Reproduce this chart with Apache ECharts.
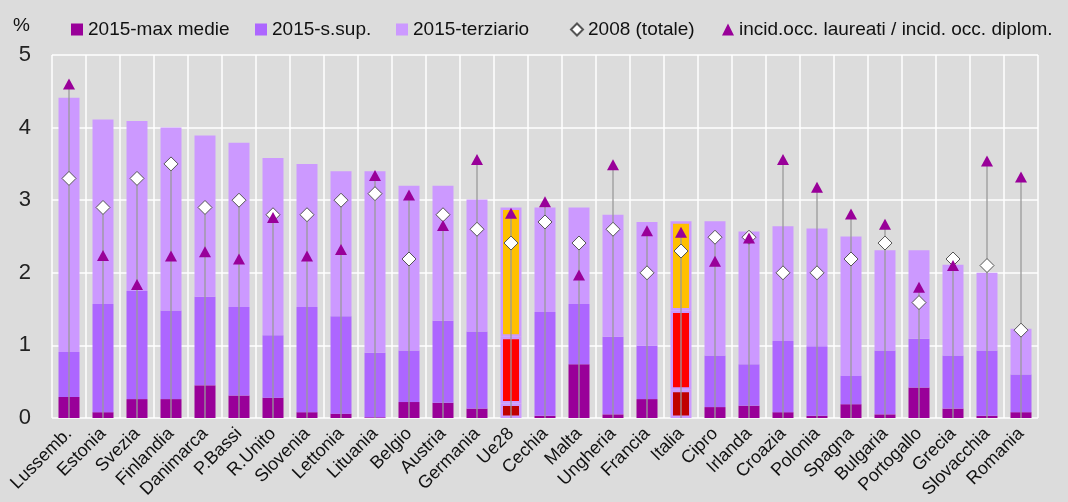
<!DOCTYPE html>
<html><head><meta charset="utf-8">
<script src="https://cdn.jsdelivr.net/npm/echarts@6/dist/echarts.min.js"></script>
<style>html,body{margin:0;padding:0;background:#DCDCDC}#c{width:1068px;height:502px}</style>
</head><body><div id="c"></div>
<script>
const categories = ['Lussemb.','Estonia','Svezia','Finlandia','Danimarca','P.Bassi','R.Unito','Slovenia','Lettonia','Lituania','Belgio','Austria','Germania','Ue28','Cechia','Malta','Ungheria','Francia','Italia','Cipro','Irlanda','Croazia','Polonia','Spagna','Bulgaria','Portogallo','Grecia','Slovacchia','Romania'];
// 2015 stacked segments
const maxMedie  = [0.29,0.08,0.26,0.26,0.45,0.31,0.28,0.08,0.06,0.01,0.22,0.21,0.13,0.20,0.03,0.74,0.05,0.26,0.39,0.15,0.17,0.08,0.03,0.19,0.05,0.42,0.13,0.03,0.08];
const sSup      = [0.62,1.49,1.49,1.22,1.22,1.22,0.86,1.45,1.34,0.89,0.71,1.13,1.06,0.92,1.43,0.83,1.07,0.74,1.09,0.71,0.57,0.98,0.96,0.39,0.88,0.67,0.73,0.90,0.52];
const terziario = [3.50,2.54,2.34,2.52,2.22,2.26,2.44,1.97,2.00,2.50,2.27,1.86,1.82,1.78,1.44,1.33,1.68,1.70,1.23,1.85,1.83,1.58,1.62,1.92,1.38,1.22,1.25,1.07,0.63];
const tot2008   = [3.3,2.9,3.3,3.5,2.9,3.0,2.8,2.8,3.0,3.09,2.19,2.8,2.6,2.41,2.7,2.41,2.6,2.0,2.3,2.49,2.49,2.0,2.0,2.19,2.41,1.59,2.19,2.1,1.21];
const ratio     = [4.6,2.24,1.84,2.23,2.29,2.19,2.76,2.23,2.32,3.34,3.07,2.65,3.56,2.82,2.98,1.97,3.49,2.58,2.56,2.16,2.48,3.56,3.18,2.81,2.67,1.8,2.1,3.54,3.32];
const highlighted = ['Ue28','Italia'];
const seriesNames = ['2015-max medie','2015-s.sup.','2015-terziario','2008 (totale)','incid.occ. laureati / incid. occ. diplom.'];

const FONT = "'Liberation Sans', Arial, sans-serif";
const baseColors = ['#990099','#AD66FF','#CC99FF'];
const hiColors = ['#C00000','#FF0000','#FFC000'];

function barData(vals, k){
  return vals.map((v,i)=>{
    if (highlighted.includes(categories[i])) {
      return {value:v, itemStyle:{color:hiColors[k], borderColor:'#CC99FF', borderWidth:2.5}};
    }
    return v;
  });
}

const chart = echarts.init(document.getElementById('c'), null, {renderer:'canvas'});
const legendBase = {top:15, itemWidth:12, itemHeight:12, itemGap:4,
  textStyle:{fontSize:19, color:'#111', fontFamily:FONT}};
chart.setOption({
  backgroundColor:'#DCDCDC',
  animation:false,
  textStyle:{fontFamily:FONT},
  graphic:[{type:'text', left:13, top:16, style:{text:'%', fontSize:19, fill:'#111', fontFamily:FONT}}],
  legend:[
    Object.assign({}, legendBase, {left:66, data:[{name:seriesNames[0], icon:'rect'}]}),
    Object.assign({}, legendBase, {left:250, data:[{name:seriesNames[1], icon:'rect'}]}),
    Object.assign({}, legendBase, {left:391, data:[{name:seriesNames[2], icon:'rect'}]}),
    Object.assign({}, legendBase, {left:565, data:[{name:seriesNames[3]}]}),
    Object.assign({}, legendBase, {left:717, data:[{name:seriesNames[4]}]})
  ],
  grid:{left:52, right:30, top:55, bottom:84, containLabel:false},
  xAxis:{type:'category', data:categories, boundaryGap:true,
    axisLine:{show:false}, axisTick:{show:false},
    splitLine:{show:true, interval:0, lineStyle:{color:'#FFFFFF', width:1.5}},
    axisLabel:{interval:0, rotate:45, fontSize:18, color:'#111', margin:13, fontFamily:FONT}},
  yAxis:{type:'value', min:0, max:5, interval:1,
    axisLine:{show:false}, axisTick:{show:false},
    splitLine:{show:true, lineStyle:{color:'#FFFFFF', width:1.5}},
    axisLabel:{fontSize:22, color:'#222', margin:21, fontFamily:FONT}},
  series:[
    {name:seriesNames[0], type:'bar', stack:'a', barWidth:21, data:barData(maxMedie,0), itemStyle:{color:baseColors[0]}, z:2},
    {name:seriesNames[1], type:'bar', stack:'a', barWidth:21, data:barData(sSup,1), itemStyle:{color:baseColors[1]}, z:2},
    {name:seriesNames[2], type:'bar', stack:'a', barWidth:21, data:barData(terziario,2), itemStyle:{color:baseColors[2]}, z:2},
    {name:'hilo', type:'custom', z:3, silent:true,
      data:categories.map((c,i)=>[i, Math.max(tot2008[i], ratio[i])]),
      encode:{x:0, y:1},
      renderItem:(params, api)=>{
        const p0 = api.coord([api.value(0), 0]);
        const p1 = api.coord([api.value(0), api.value(1)]);
        return {type:'line', shape:{x1:p0[0], y1:p0[1], x2:p1[0], y2:p1[1]}, style:{stroke:'#9A9A9A', lineWidth:1.3}};
      }},
    {name:seriesNames[3], type:'scatter', symbol:'diamond', symbolSize:[14,14], z:4, data:tot2008,
      itemStyle:{color:'#FFFFFF', borderColor:'#555555', borderWidth:1, opacity:1}},
    {name:seriesNames[4], type:'scatter', symbol:'triangle', symbolSize:[12,11], z:5, data:ratio,
      itemStyle:{color:'#990099', opacity:1}}
  ]
});
</script></body></html>
